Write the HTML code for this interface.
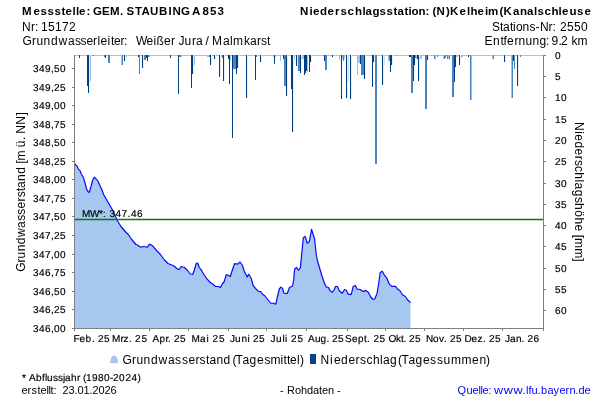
<!DOCTYPE html>
<html><head><meta charset="utf-8"><title>Grundwasserstand</title>
<style>
html,body{margin:0;padding:0;background:#fff;}
body{width:600px;height:400px;overflow:hidden;}
svg{display:block;will-change:transform;}
text{font-family:"Liberation Sans",sans-serif;fill:#000;font-kerning:none;font-variant-ligatures:none;white-space:pre;}
.t12{font-size:12px;}
.t11{font-size:11px;}
.t10{font-size:10px;text-rendering:geometricPrecision;stroke:#000;stroke-width:0.18px;}
.b{font-weight:bold;font-size:11.5px;}
</style></head><body>
<svg width="600" height="400" viewBox="0 0 600 400">
<rect x="0" y="0" width="600" height="400" fill="#ffffff"/>

<polygon points="74.5,328 74.6,164 75.25,164.3 76.75,165.8 78.25,168.8 79.75,170.3 81.25,173.75 83.5,177.8 85,182.75 86.5,188.75 88,191.75 89.2,192.5 91,186.5 92.8,179.75 94.3,177.2 96.25,179 98,181.25 100,185.75 101.8,189.5 103.75,194.75 106.75,200 109.75,205.25 112,209 113.5,212 117.25,220.5 121,226.5 124.75,231 128.5,234.75 131.5,239.25 136,244.5 138.25,245.5 140.5,247.2 142.75,246.5 145,246.75 147.25,247.2 149.5,244.2 150.5,244.6 152.5,245.7 156.75,250.75 160.5,254.5 164.25,259.75 168,263.5 171,264.7 173.7,265.75 176.25,268 178.5,269.5 179.5,269.2 181.2,266.5 184.5,267.5 187.5,270.5 190.2,274 192.75,274.3 194.25,270.25 196.2,263.5 197.7,263.2 199.2,267.25 201.75,270.7 204,274.75 207,278.8 210,282.25 213,284.2 215.5,286.5 218.25,286.5 220.5,287.5 222.3,283.75 224.25,281.5 226.2,274.75 228,275.2 230.25,276.5 232.5,269.5 234.5,263.7 237.75,264.1 240,262 242.25,265 244.5,271.75 247.2,277 248.7,274.3 251.25,278.5 253.2,285.7 255.75,288.7 258.3,291.25 260.7,291.7 262.5,294.25 264.75,295.75 267.75,299.5 270.75,303.25 273.75,303.25 275.7,304.3 277.5,296.5 279.3,289 280.8,287.2 282.45,288.25 283.95,293.2 287.25,293.5 289.5,287.5 292.5,286 293.7,280 294.6,269.3 296.5,267.5 298.5,270.25 300.4,267.7 301.7,254 303.3,237.7 305.25,236.5 307.2,243.25 309.3,241.75 311.55,229.45 314.55,238.75 316.3,255 317.4,260.5 319.75,268.5 322,276 324.25,282.75 326.2,286.95 328.3,287.25 330.25,291 332.5,292.2 334,290.25 335.5,286.5 337.45,286.5 339.25,290.7 342.25,293.25 344.5,289.5 346.3,290.25 348.25,294.3 351.25,294.3 353.2,286.5 355.3,285.45 357.25,289.2 360.25,289.5 362.5,291.3 364.3,291.3 365.5,290.25 368.5,292.5 370.75,297 372.7,299.25 374.5,299.25 376.9,294 378.5,284.5 380.2,272.6 382.3,271.25 384.4,275.2 386.9,278.2 389.2,283.85 391.75,286.4 395.5,286.4 397.5,289 400,290.75 402.7,295 405.25,296.2 407.5,299.8 410.5,302.5 410.5,328" fill="#a6c8f0"/>
<polyline points="74.6,164 75.25,164.3 76.75,165.8 78.25,168.8 79.75,170.3 81.25,173.75 83.5,177.8 85,182.75 86.5,188.75 88,191.75 89.2,192.5 91,186.5 92.8,179.75 94.3,177.2 96.25,179 98,181.25 100,185.75 101.8,189.5 103.75,194.75 106.75,200 109.75,205.25 112,209 113.5,212 117.25,220.5 121,226.5 124.75,231 128.5,234.75 131.5,239.25 136,244.5 138.25,245.5 140.5,247.2 142.75,246.5 145,246.75 147.25,247.2 149.5,244.2 150.5,244.6 152.5,245.7 156.75,250.75 160.5,254.5 164.25,259.75 168,263.5 171,264.7 173.7,265.75 176.25,268 178.5,269.5 179.5,269.2 181.2,266.5 184.5,267.5 187.5,270.5 190.2,274 192.75,274.3 194.25,270.25 196.2,263.5 197.7,263.2 199.2,267.25 201.75,270.7 204,274.75 207,278.8 210,282.25 213,284.2 215.5,286.5 218.25,286.5 220.5,287.5 222.3,283.75 224.25,281.5 226.2,274.75 228,275.2 230.25,276.5 232.5,269.5 234.5,263.7 237.75,264.1 240,262 242.25,265 244.5,271.75 247.2,277 248.7,274.3 251.25,278.5 253.2,285.7 255.75,288.7 258.3,291.25 260.7,291.7 262.5,294.25 264.75,295.75 267.75,299.5 270.75,303.25 273.75,303.25 275.7,304.3 277.5,296.5 279.3,289 280.8,287.2 282.45,288.25 283.95,293.2 287.25,293.5 289.5,287.5 292.5,286 293.7,280 294.6,269.3 296.5,267.5 298.5,270.25 300.4,267.7 301.7,254 303.3,237.7 305.25,236.5 307.2,243.25 309.3,241.75 311.55,229.45 314.55,238.75 316.3,255 317.4,260.5 319.75,268.5 322,276 324.25,282.75 326.2,286.95 328.3,287.25 330.25,291 332.5,292.2 334,290.25 335.5,286.5 337.45,286.5 339.25,290.7 342.25,293.25 344.5,289.5 346.3,290.25 348.25,294.3 351.25,294.3 353.2,286.5 355.3,285.45 357.25,289.2 360.25,289.5 362.5,291.3 364.3,291.3 365.5,290.25 368.5,292.5 370.75,297 372.7,299.25 374.5,299.25 376.9,294 378.5,284.5 380.2,272.6 382.3,271.25 384.4,275.2 386.9,278.2 389.2,283.85 391.75,286.4 395.5,286.4 397.5,289 400,290.75 402.7,295 405.25,296.2 407.5,299.8 410.5,302.5" fill="none" stroke="#0808fa" stroke-width="1.2" stroke-linejoin="round"/>
<line x1="74" y1="55.5" x2="544" y2="55.5" stroke="#bebebe" shape-rendering="crispEdges"/>
<g shape-rendering="crispEdges">
<rect x="79" y="55" width="1" height="3" fill="#003f7f"/>
<rect x="87" y="55" width="1" height="31" fill="#003f7f"/>
<rect x="88" y="55" width="1" height="38" fill="#003f7f"/>
<rect x="89" y="55" width="1" height="38" fill="#e6eef8"/>
<rect x="90" y="55" width="1" height="26" fill="#9dbfe4"/>
<rect x="93" y="55" width="1" height="1" fill="#4a84c0"/>
<rect x="104" y="55" width="1" height="2" fill="#4a84c0"/>
<rect x="105" y="55" width="1" height="3" fill="#003f7f"/>
<rect x="108" y="55" width="1" height="8" fill="#4a84c0"/>
<rect x="109" y="55" width="1" height="8" fill="#4a84c0"/>
<rect x="121" y="55" width="1" height="10" fill="#9dbfe4"/>
<rect x="122" y="55" width="1" height="10" fill="#4a84c0"/>
<rect x="124" y="55" width="1" height="6" fill="#003f7f"/>
<rect x="125" y="55" width="1" height="6" fill="#e6eef8"/>
<rect x="126" y="55" width="1" height="2" fill="#9dbfe4"/>
<rect x="138" y="55" width="1" height="2" fill="#003f7f"/>
<rect x="139" y="55" width="1" height="19" fill="#4a84c0"/>
<rect x="142" y="55" width="1" height="13" fill="#003f7f"/>
<rect x="143" y="55" width="1" height="13" fill="#e6eef8"/>
<rect x="144" y="55" width="1" height="5" fill="#4a84c0"/>
<rect x="145" y="55" width="1" height="5" fill="#4a84c0"/>
<rect x="146" y="55" width="1" height="3" fill="#003f7f"/>
<rect x="147" y="55" width="1" height="6" fill="#003f7f"/>
<rect x="148" y="55" width="1" height="2" fill="#4a84c0"/>
<rect x="149" y="55" width="1" height="2" fill="#9dbfe4"/>
<rect x="170" y="55" width="1" height="3" fill="#003f7f"/>
<rect x="178" y="55" width="1" height="39" fill="#003f7f"/>
<rect x="179" y="55" width="1" height="2" fill="#4a84c0"/>
<rect x="180" y="55" width="1" height="2" fill="#4a84c0"/>
<rect x="181" y="55" width="1" height="2" fill="#9dbfe4"/>
<rect x="191" y="55" width="1" height="33" fill="#003f7f"/>
<rect x="192" y="55" width="1" height="19" fill="#003f7f"/>
<rect x="193" y="55" width="1" height="19" fill="#e6eef8"/>
<rect x="194" y="55" width="1" height="10" fill="#9dbfe4"/>
<rect x="207" y="55" width="1" height="2" fill="#9dbfe4"/>
<rect x="208" y="55" width="1" height="2" fill="#9dbfe4"/>
<rect x="209" y="55" width="1" height="2" fill="#4a84c0"/>
<rect x="210" y="55" width="1" height="10" fill="#003f7f"/>
<rect x="211" y="55" width="1" height="10" fill="#e6eef8"/>
<rect x="214" y="55" width="1" height="4" fill="#003f7f"/>
<rect x="215" y="55" width="1" height="4" fill="#e6eef8"/>
<rect x="219" y="55" width="1" height="22" fill="#003f7f"/>
<rect x="220" y="55" width="1" height="22" fill="#e6eef8"/>
<rect x="221" y="55" width="1" height="2" fill="#9dbfe4"/>
<rect x="222" y="55" width="1" height="3" fill="#4a84c0"/>
<rect x="223" y="55" width="1" height="26" fill="#003f7f"/>
<rect x="224" y="55" width="1" height="26" fill="#e6eef8"/>
<rect x="228" y="55" width="1" height="4" fill="#003f7f"/>
<rect x="229" y="55" width="1" height="29" fill="#003f7f"/>
<rect x="230" y="55" width="1" height="5" fill="#9dbfe4"/>
<rect x="232" y="55" width="1" height="83" fill="#003f7f"/>
<rect x="233" y="55" width="1" height="14" fill="#4a84c0"/>
<rect x="234" y="55" width="1" height="14" fill="#4a84c0"/>
<rect x="235" y="55" width="1" height="14" fill="#4a84c0"/>
<rect x="236" y="55" width="1" height="19" fill="#003f7f"/>
<rect x="237" y="55" width="1" height="13" fill="#003f7f"/>
<rect x="238" y="55" width="1" height="13" fill="#e6eef8"/>
<rect x="246" y="55" width="1" height="43" fill="#003f7f"/>
<rect x="247" y="55" width="1" height="43" fill="#e6eef8"/>
<rect x="255" y="55" width="1" height="25" fill="#003f7f"/>
<rect x="256" y="55" width="1" height="2" fill="#4a84c0"/>
<rect x="260" y="55" width="1" height="7" fill="#003f7f"/>
<rect x="261" y="55" width="1" height="7" fill="#e6eef8"/>
<rect x="273" y="55" width="1" height="2" fill="#9dbfe4"/>
<rect x="274" y="55" width="1" height="9" fill="#003f7f"/>
<rect x="275" y="55" width="1" height="2" fill="#9dbfe4"/>
<rect x="280" y="55" width="1" height="6" fill="#9dbfe4"/>
<rect x="283" y="55" width="1" height="4" fill="#003f7f"/>
<rect x="284" y="55" width="1" height="31" fill="#4a84c0"/>
<rect x="285" y="55" width="1" height="31" fill="#4a84c0"/>
<rect x="286" y="55" width="1" height="41" fill="#003f7f"/>
<rect x="287" y="55" width="1" height="41" fill="#e6eef8"/>
<rect x="291" y="55" width="1" height="34" fill="#003f7f"/>
<rect x="292" y="55" width="1" height="77" fill="#003f7f"/>
<rect x="293" y="55" width="1" height="77" fill="#e6eef8"/>
<rect x="294" y="55" width="1" height="4" fill="#9dbfe4"/>
<rect x="296" y="55" width="1" height="11" fill="#003f7f"/>
<rect x="297" y="55" width="1" height="11" fill="#e6eef8"/>
<rect x="298" y="55" width="1" height="16" fill="#4a84c0"/>
<rect x="299" y="55" width="1" height="16" fill="#4a84c0"/>
<rect x="300" y="55" width="1" height="18" fill="#003f7f"/>
<rect x="301" y="55" width="1" height="18" fill="#e6eef8"/>
<rect x="302" y="55" width="1" height="4" fill="#9dbfe4"/>
<rect x="303" y="55" width="1" height="4" fill="#9dbfe4"/>
<rect x="304" y="55" width="1" height="20" fill="#003f7f"/>
<rect x="305" y="55" width="1" height="18" fill="#003f7f"/>
<rect x="306" y="55" width="1" height="16" fill="#003f7f"/>
<rect x="307" y="55" width="1" height="17" fill="#9dbfe4"/>
<rect x="309" y="55" width="1" height="17" fill="#003f7f"/>
<rect x="310" y="55" width="1" height="7" fill="#003f7f"/>
<rect x="311" y="55" width="1" height="7" fill="#e6eef8"/>
<rect x="324" y="55" width="1" height="6" fill="#003f7f"/>
<rect x="325" y="55" width="1" height="15" fill="#4a84c0"/>
<rect x="326" y="55" width="1" height="15" fill="#4a84c0"/>
<rect x="332" y="55" width="1" height="2" fill="#003f7f"/>
<rect x="339" y="55" width="1" height="5" fill="#9dbfe4"/>
<rect x="341" y="55" width="1" height="44" fill="#003f7f"/>
<rect x="342" y="55" width="1" height="4" fill="#9dbfe4"/>
<rect x="343" y="55" width="1" height="6" fill="#4a84c0"/>
<rect x="344" y="55" width="1" height="4" fill="#9dbfe4"/>
<rect x="346" y="55" width="1" height="43" fill="#003f7f"/>
<rect x="347" y="55" width="1" height="43" fill="#e6eef8"/>
<rect x="348" y="55" width="1" height="27" fill="#cfe0f2"/>
<rect x="350" y="55" width="1" height="44" fill="#003f7f"/>
<rect x="351" y="55" width="1" height="44" fill="#e6eef8"/>
<rect x="357" y="55" width="1" height="20" fill="#9dbfe4"/>
<rect x="358" y="55" width="1" height="8" fill="#9dbfe4"/>
<rect x="359" y="55" width="1" height="8" fill="#9dbfe4"/>
<rect x="360" y="55" width="1" height="9" fill="#003f7f"/>
<rect x="361" y="55" width="1" height="20" fill="#4a84c0"/>
<rect x="362" y="55" width="1" height="20" fill="#4a84c0"/>
<rect x="363" y="55" width="1" height="20" fill="#4a84c0"/>
<rect x="364" y="55" width="1" height="24" fill="#003f7f"/>
<rect x="365" y="55" width="1" height="24" fill="#e6eef8"/>
<rect x="372" y="55" width="1" height="32" fill="#003f7f"/>
<rect x="373" y="55" width="1" height="7" fill="#003f7f"/>
<rect x="374" y="55" width="1" height="7" fill="#e6eef8"/>
<rect x="375" y="55" width="1" height="109" fill="#4a84c0"/>
<rect x="376" y="55" width="1" height="109" fill="#4a84c0"/>
<rect x="382" y="55" width="1" height="30" fill="#003f7f"/>
<rect x="383" y="55" width="1" height="30" fill="#e6eef8"/>
<rect x="384" y="55" width="1" height="10" fill="#cfe0f2"/>
<rect x="388" y="55" width="1" height="6" fill="#9dbfe4"/>
<rect x="389" y="55" width="1" height="6" fill="#4a84c0"/>
<rect x="390" y="55" width="1" height="17" fill="#003f7f"/>
<rect x="391" y="55" width="1" height="10" fill="#003f7f"/>
<rect x="392" y="55" width="1" height="10" fill="#e6eef8"/>
<rect x="409" y="55" width="1" height="2" fill="#003f7f"/>
<rect x="410" y="55" width="1" height="2" fill="#003f7f"/>
<rect x="411" y="55" width="1" height="38" fill="#4a84c0"/>
<rect x="412" y="55" width="1" height="38" fill="#4a84c0"/>
<rect x="413" y="55" width="1" height="26" fill="#003f7f"/>
<rect x="414" y="55" width="1" height="10" fill="#003f7f"/>
<rect x="415" y="55" width="1" height="3" fill="#4a84c0"/>
<rect x="416" y="55" width="1" height="4" fill="#9dbfe4"/>
<rect x="417" y="55" width="1" height="4" fill="#003f7f"/>
<rect x="418" y="55" width="1" height="26" fill="#003f7f"/>
<rect x="419" y="55" width="1" height="26" fill="#e6eef8"/>
<rect x="420" y="55" width="1" height="4" fill="#9dbfe4"/>
<rect x="421" y="55" width="1" height="4" fill="#9dbfe4"/>
<rect x="425" y="55" width="1" height="54" fill="#4a84c0"/>
<rect x="426" y="55" width="1" height="54" fill="#4a84c0"/>
<rect x="427" y="55" width="1" height="5" fill="#003f7f"/>
<rect x="428" y="55" width="1" height="5" fill="#e6eef8"/>
<rect x="434" y="55" width="1" height="4" fill="#4a84c0"/>
<rect x="435" y="55" width="1" height="4" fill="#9dbfe4"/>
<rect x="437" y="55" width="1" height="2" fill="#4a84c0"/>
<rect x="443" y="55" width="1" height="4" fill="#9dbfe4"/>
<rect x="444" y="55" width="1" height="4" fill="#4a84c0"/>
<rect x="445" y="55" width="1" height="3" fill="#4a84c0"/>
<rect x="447" y="55" width="1" height="4" fill="#4a84c0"/>
<rect x="448" y="55" width="1" height="4" fill="#9dbfe4"/>
<rect x="449" y="55" width="1" height="4" fill="#4a84c0"/>
<rect x="452" y="55" width="1" height="42" fill="#4a84c0"/>
<rect x="453" y="55" width="1" height="42" fill="#4a84c0"/>
<rect x="454" y="55" width="1" height="27" fill="#003f7f"/>
<rect x="455" y="55" width="1" height="12" fill="#003f7f"/>
<rect x="456" y="55" width="1" height="2" fill="#9dbfe4"/>
<rect x="457" y="55" width="1" height="2" fill="#9dbfe4"/>
<rect x="459" y="55" width="1" height="10" fill="#003f7f"/>
<rect x="460" y="55" width="1" height="10" fill="#e6eef8"/>
<rect x="461" y="55" width="1" height="3" fill="#9dbfe4"/>
<rect x="462" y="55" width="1" height="2" fill="#9dbfe4"/>
<rect x="468" y="55" width="1" height="2" fill="#003f7f"/>
<rect x="470" y="55" width="1" height="45" fill="#4a84c0"/>
<rect x="471" y="55" width="1" height="45" fill="#9dbfe4"/>
<rect x="492" y="55" width="1" height="4" fill="#9dbfe4"/>
<rect x="493" y="55" width="1" height="4" fill="#4a84c0"/>
<rect x="504" y="55" width="1" height="7" fill="#003f7f"/>
<rect x="505" y="55" width="1" height="7" fill="#e6eef8"/>
<rect x="511" y="55" width="1" height="43" fill="#9dbfe4"/>
<rect x="512" y="55" width="1" height="43" fill="#4a84c0"/>
<rect x="513" y="55" width="1" height="6" fill="#003f7f"/>
<rect x="514" y="55" width="1" height="14" fill="#4a84c0"/>
<rect x="517" y="55" width="1" height="31" fill="#003f7f"/>
<rect x="518" y="55" width="1" height="31" fill="#e6eef8"/>
<rect x="520" y="55" width="1" height="2" fill="#4a84c0"/>
</g>
<line x1="75" y1="219.5" x2="543" y2="219.5" stroke="#008000" stroke-width="1.4"/>
<text class="t10" x="82 90 99 103 106.5 109.5 115.5 121.5 127.5 131 137" y="216.8" xml:space="preserve">MW*: 347.46</text>
<g stroke="#7f7f7f" stroke-width="1" fill="none" shape-rendering="crispEdges">
<line x1="74.5" y1="55" x2="74.5" y2="329"/>
<line x1="543.5" y1="55" x2="543.5" y2="329"/>
<line x1="74" y1="328.5" x2="544" y2="328.5"/>
<line x1="72" y1="68.5" x2="74" y2="68.5"/>
<line x1="72" y1="87.5" x2="74" y2="87.5"/>
<line x1="72" y1="105.5" x2="74" y2="105.5"/>
<line x1="72" y1="124.5" x2="74" y2="124.5"/>
<line x1="72" y1="142.5" x2="74" y2="142.5"/>
<line x1="72" y1="161.5" x2="74" y2="161.5"/>
<line x1="72" y1="179.5" x2="74" y2="179.5"/>
<line x1="72" y1="198.5" x2="74" y2="198.5"/>
<line x1="72" y1="216.5" x2="74" y2="216.5"/>
<line x1="72" y1="235.5" x2="74" y2="235.5"/>
<line x1="72" y1="254.5" x2="74" y2="254.5"/>
<line x1="72" y1="272.5" x2="74" y2="272.5"/>
<line x1="72" y1="291.5" x2="74" y2="291.5"/>
<line x1="72" y1="309.5" x2="74" y2="309.5"/>
<line x1="72" y1="328.5" x2="74" y2="328.5"/>
<line x1="544" y1="55.5" x2="546" y2="55.5"/>
<line x1="544" y1="76.5" x2="546" y2="76.5"/>
<line x1="544" y1="97.5" x2="546" y2="97.5"/>
<line x1="544" y1="119.5" x2="546" y2="119.5"/>
<line x1="544" y1="140.5" x2="546" y2="140.5"/>
<line x1="544" y1="161.5" x2="546" y2="161.5"/>
<line x1="544" y1="183.5" x2="546" y2="183.5"/>
<line x1="544" y1="204.5" x2="546" y2="204.5"/>
<line x1="544" y1="225.5" x2="546" y2="225.5"/>
<line x1="544" y1="246.5" x2="546" y2="246.5"/>
<line x1="544" y1="268.5" x2="546" y2="268.5"/>
<line x1="544" y1="289.5" x2="546" y2="289.5"/>
<line x1="544" y1="310.5" x2="546" y2="310.5"/>
<line x1="74.5" y1="329" x2="74.5" y2="331"/>
<line x1="110.5" y1="329" x2="110.5" y2="331"/>
<line x1="149.5" y1="329" x2="149.5" y2="331"/>
<line x1="188.5" y1="329" x2="188.5" y2="331"/>
<line x1="228.5" y1="329" x2="228.5" y2="331"/>
<line x1="266.5" y1="329" x2="266.5" y2="331"/>
<line x1="306.5" y1="329" x2="306.5" y2="331"/>
<line x1="347.5" y1="329" x2="347.5" y2="331"/>
<line x1="385.5" y1="329" x2="385.5" y2="331"/>
<line x1="424.5" y1="329" x2="424.5" y2="331"/>
<line x1="463.5" y1="329" x2="463.5" y2="331"/>
<line x1="502.5" y1="329" x2="502.5" y2="331"/>
<line x1="543.5" y1="329" x2="543.5" y2="331"/>
</g>
<text class="t10" x="33 39 45 51 54 60" y="72" xml:space="preserve">349,50</text>
<text class="t10" x="33 39 45 51 54 60" y="91" xml:space="preserve">349,25</text>
<text class="t10" x="33 39 45 51 54 60" y="109" xml:space="preserve">349,00</text>
<text class="t10" x="33 39 45 51 54 60" y="128" xml:space="preserve">348,75</text>
<text class="t10" x="33 39 45 51 54 60" y="146" xml:space="preserve">348,50</text>
<text class="t10" x="33 39 45 51 54 60" y="165" xml:space="preserve">348,25</text>
<text class="t10" x="33 39 45 51 54 60" y="183" xml:space="preserve">348,00</text>
<text class="t10" x="33 39 45 51 54 60" y="202" xml:space="preserve">347,75</text>
<text class="t10" x="33 39 45 51 54 60" y="220" xml:space="preserve">347,50</text>
<text class="t10" x="33 39 45 51 54 60" y="239" xml:space="preserve">347,25</text>
<text class="t10" x="33 39 45 51 54 60" y="258" xml:space="preserve">347,00</text>
<text class="t10" x="33 39 45 51 54 60" y="276" xml:space="preserve">346,75</text>
<text class="t10" x="33 39 45 51 54 60" y="295" xml:space="preserve">346,50</text>
<text class="t10" x="33 39 45 51 54 60" y="313" xml:space="preserve">346,25</text>
<text class="t10" x="33 39 45 51 54 60" y="332" xml:space="preserve">346,00</text>
<text class="t10" x="555" y="59" xml:space="preserve">0</text>
<text class="t10" x="555" y="80" xml:space="preserve">5</text>
<text class="t10" x="555 561" y="101" xml:space="preserve">10</text>
<text class="t10" x="555 561" y="123" xml:space="preserve">15</text>
<text class="t10" x="555 561" y="144" xml:space="preserve">20</text>
<text class="t10" x="555 561" y="165" xml:space="preserve">25</text>
<text class="t10" x="555 561" y="187" xml:space="preserve">30</text>
<text class="t10" x="555 561" y="208" xml:space="preserve">35</text>
<text class="t10" x="555 561" y="229" xml:space="preserve">40</text>
<text class="t10" x="555 561" y="250" xml:space="preserve">45</text>
<text class="t10" x="555 561" y="272" xml:space="preserve">50</text>
<text class="t10" x="555 561" y="293" xml:space="preserve">55</text>
<text class="t10" x="555 561" y="314" xml:space="preserve">60</text>
<text class="t10" x="73.5 79.5 85.5 92 95 98 104" y="342" xml:space="preserve">Feb. 25</text>
<text class="t10" x="112 120.5 123.5 129 132 135 141.5" y="342" xml:space="preserve">Mrz. 25</text>
<text class="t10" x="152.5 159.5 165.5 168 171 174 180" y="342" xml:space="preserve">Apr. 25</text>
<text class="t10" x="191.5 200 206.5 209 212.5 219" y="342" xml:space="preserve">Mai 25</text>
<text class="t10" x="230 235 241.5 247.5 249.5 253 259" y="342" xml:space="preserve">Juni 25</text>
<text class="t10" x="270.5 276 282.5 285 287.5 291 297.5" y="342" xml:space="preserve">Juli 25</text>
<text class="t10" x="308 315 320.5 326.5 329 332 338" y="342" xml:space="preserve">Aug. 25</text>
<text class="t10" x="345 352 358 364 367 370.5 373.5 379.5" y="342" xml:space="preserve">Sept. 25</text>
<text class="t10" x="388.5 396 401 403.5 406.5 409 415" y="342" xml:space="preserve">Okt. 25</text>
<text class="t10" x="426 433 439 444 447 450 456" y="342" xml:space="preserve">Nov. 25</text>
<text class="t10" x="464.5 471.5 477.5 483 486 489 495" y="342" xml:space="preserve">Dez. 25</text>
<text class="t10" x="505 510 516 521.5 524.5 527.5 533.5" y="342" xml:space="preserve">Jan. 26</text>
<g transform="translate(24.9,271.1) rotate(-90)"><text class="t12" x="-0.6 8.5 12.6 19.8 26.9 34 43.1 50.3 56.4 62.5 69.6 73.8 79.9 83 90.1 97.3 104.4 107.5 110.6 120.8 123.9 131 134.1 137.3 146.4 155.5" y="0" xml:space="preserve">Grundwasserstand [m ü. NN]</text></g>
<g transform="translate(575.1,123) rotate(90)"><text class="t12" x="-1 8.2 11.3 18.5 25.6 32.8 37 43.1 49.3 56.4 59.6 66.7 73.9 80.1 87.2 94.4 101.5 108.7 111.8 115 125.2 135.3" y="0" xml:space="preserve">Niederschlagshöhe [mm]</text></g>
<text class="t12 b" x="22 33.5 40.5 47.5 54.5 61.5 65.5 72.5 76 79 86.5 90 93 102 110 120 123.5 126.5 135 141.5 150 159 168.5 172.5 181 189.5 192 200 202.5 210 217.5" y="14.7" xml:space="preserve">Messstelle: GEM. STAUBING A 853</text>
<text class="t12" x="22 31 35 38 41 48 55 62 69" y="30.7" xml:space="preserve">Nr: 15172</text>
<text class="t12" x="22.5 32 36.5 43.5 51 58.5 68 75 80.5 86.5 93 97.5 100.5 107.5 111 114 120.5 124 127 130 133 136 146.5 153.5 156.5 164 171 175.5 178.5 184.5 192 196 202.5 205.5 208.5 212 223 230 233 244 250 257 261 267" y="45.4" xml:space="preserve">Grundwasserleiter:   Weißer Jura / Malmkarst</text>
<text class="t12 b" x="300 309.5 313 320 327.5 335 340.5 347.5 355 362.5 365.5 372.5 379.5 386.5 393.5 397.5 404.5 408.5 411.5 418.5 425.5 429.5 432.5 436.5 446 450 459.5 467 470.5 477.5 485 488 499.5 503.5 513 520 527 534 537.5 544.5 551.5 558.5 562 569.5 577 584.5" y="14.7" xml:space="preserve">Niederschlagsstation: (N)Kelheim(Kanalschleuse</text>
<text class="t12" x="492 500 503 510 513 516 522.5 529.5 535.5 540 548.5 552.5 556.5 560 567 574 581" y="30.7" xml:space="preserve">Stations-Nr: 2550</text>
<text class="t12" x="484.5 493 500.5 503.5 507 514.5 518.5 525.5 532.5 539.5 546 549 551.5 558.5 561 568.5 571.5 577.5" y="45.4" xml:space="preserve">Entfernung: 9.2 km</text>
<path d="M110,363.3 L111,358 Q111.8,355.5 114.1,355.5 Q116.4,355.5 117.2,358 L118.2,363.3 Z" fill="#a6c8f0"/>
<text class="t12" x="122.5 132 136.5 143.5 151 158.5 168 175 182 188.5 195.5 199.5 206 209.5 216.5 223.5 230 232.5 235.5 242.5 249.5 257 264.5 270.5 280.5 283.5 287 290 297 300" y="363.9" xml:space="preserve">Grundwasserstand (Tagesmittel)</text>
<rect x="310" y="354" width="6" height="10" fill="#0a4380"/>
<text class="t12" x="320.5 330 334 341 348.5 355.5 360 366.5 373 380 383 390 396 398 401.5 408.5 415.5 423 430 437 443.5 451 461.5 472 479.5 486" y="363.9" xml:space="preserve">Niederschlag (Tagessummen)</text>
<text class="t10" x="22 26 29 36 42 45 47 53 58 63 65 71 77 80 83 86 92 98 104 110 113 119 125.5 131.5 137.5" y="380.8" xml:space="preserve">* Abflussjahr (1980-2024)</text>
<text class="t11" x="21.5 27.5 31.5 37.5 40.5 46.5 48.5 50.5 53.5 56.5 59.5 62.5 68.5 74.5 77.5 83.5 89.5 92.5 98.5 104.5 110.5" y="394.3" xml:space="preserve">erstellt:  23.01.2026</text>
<text class="t11" x="280 284 287 295 301 307 313 319 322 328 334 337" y="394.3" xml:space="preserve">- Rohdaten -</text>
<text class="t11" x="457.5 466.5 472.5 478.5 480.5 482.5 488.5 491.5" y="394.3" xml:space="preserve" style="fill:#0000ff">Quelle: </text>
<text class="t11" transform="translate(494,394.3) scale(1.15,1)" style="fill:#0000ff">w</text>
<text class="t11" transform="translate(503.75,394.3) scale(1.15,1)" style="fill:#0000ff">w</text>
<text class="t11" transform="translate(513.5,394.3) scale(1.15,1)" style="fill:#0000ff">w</text>
<text class="t11" x="522.5 526 528.5 531.5 537.5 541 547.5 553.5 559.5 565.5 569.5 575.5 578.5 584.5" y="394.3" xml:space="preserve" style="fill:#0000ff">.lfu.bayern.de</text>
</svg></body></html>
